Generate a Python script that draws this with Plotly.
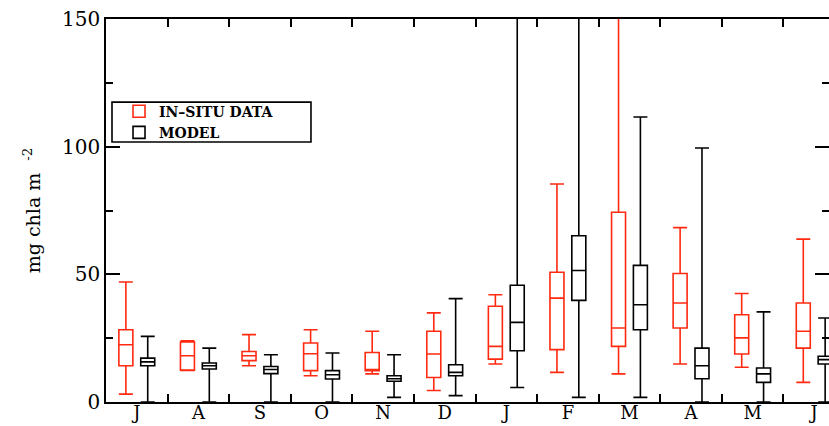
import plotly.graph_objects as go

month_keys = ["Jul", "Aug", "Sep", "Oct", "Nov", "Dec", "Jan", "Feb", "Mar", "Apr", "May", "Jun"]
month_labels = ["J", "A", "S", "O", "N", "D", "J", "F", "M", "A", "M", "J"]

# IN-SITU DATA (red)
insitu_low = [3.1, 12.4, 14.2, 10.3, 11.0, 4.5, 14.9, 11.6, 11.0, 14.9, 13.6, 7.7]
insitu_q1 = [14.2, 12.5, 16.2, 12.3, 12.3, 9.6, 16.8, 20.5, 21.8, 29.0, 18.8, 21.1]
insitu_med = [22.4, 18.1, 18.1, 18.9, 12.7, 18.8, 21.8, 40.7, 29.0, 38.8, 25.1, 27.7]
insitu_q3 = [28.3, 23.5, 19.8, 23.1, 19.4, 27.7, 37.5, 50.8, 74.3, 50.3, 34.2, 38.8]
insitu_high = [47.0, 24.0, 26.4, 28.3, 27.7, 34.9, 42.0, 85.4, 170.0, 68.3, 42.5, 63.8]

# MODEL (black)
model_low = [0.0, 0.0, 0.0, 0.0, 1.8, 2.5, 5.7, 1.8, 1.8, 0.0, 0.0, 0.0]
model_q1 = [14.2, 12.9, 11.1, 9.0, 8.1, 10.3, 20.1, 39.8, 28.3, 9.1, 7.7, 14.9]
model_med = [15.7, 14.2, 12.7, 10.7, 9.1, 11.6, 31.2, 51.5, 38.1, 14.2, 11.0, 16.6]
model_q3 = [17.2, 15.3, 13.9, 12.3, 10.3, 14.6, 45.7, 65.1, 53.5, 21.1, 13.3, 17.9]
model_high = [25.7, 21.1, 18.5, 19.2, 18.5, 40.5, 170.0, 170.0, 111.6, 99.5, 35.3, 32.9]

RED = "#ff2a10"
BLACK = "#000000"

fig = go.Figure()
fig.add_trace(go.Box(
    name="IN\u2013SITU DATA", x=month_keys,
    q1=insitu_q1, median=insitu_med, q3=insitu_q3,
    lowerfence=insitu_low, upperfence=insitu_high,
    line=dict(color=RED, width=1.6), fillcolor="rgba(0,0,0,0)",
    whiskerwidth=1, boxpoints=False,
))
fig.add_trace(go.Box(
    name="MODEL", x=month_keys,
    q1=model_q1, median=model_med, q3=model_q3,
    lowerfence=model_low, upperfence=model_high,
    line=dict(color=BLACK, width=1.6), fillcolor="rgba(0,0,0,0)",
    whiskerwidth=1, boxpoints=False,
))

font_family = "DejaVu Serif"
fig.update_layout(
    width=829, height=426,
    margin=dict(l=106, r=0, t=19, b=24, autoexpand=False),
    paper_bgcolor="white", plot_bgcolor="white",
    boxmode="group", boxgap=0.29, boxgroupgap=0.36,
    font=dict(family=font_family, color="black"),
    legend=dict(
        x=0.018, y=0.80, xanchor="left", yanchor="top",
        bgcolor="rgba(0,0,0,0)", borderwidth=0,
        font=dict(family=font_family, size=14, color="black", weight="bold"),
        tracegroupgap=0, itemwidth=30,
    ),
    showlegend=True,
    shapes=[dict(
        type="rect", xref="paper", yref="paper",
        x0=0.0083, x1=0.2835, y0=0.679, y1=0.783,
        line=dict(color="black", width=1.6), fillcolor="white", layer="above",
    )],
)
fig.update_xaxes(
    type="category", categoryorder="array", categoryarray=month_keys,
    tickmode="array", tickvals=month_keys, ticktext=month_labels,
    tickson="boundaries", ticks="inside", ticklen=8, tickwidth=1.5, tickcolor="black",
    showline=True, linecolor="black", linewidth=1.6, mirror="allticks",
    showgrid=False, zeroline=False, automargin=False,
    range=[-0.5, 11.24],
    ticklabelstandoff=-6,
    tickfont=dict(family=font_family, size=18, color="black"),
)
fig.update_yaxes(
    range=[0, 150], tickmode="array", tickvals=[0, 50, 100, 150],
    ticks="inside", ticklen=14, tickwidth=1.5, tickcolor="black",
    minor=dict(dtick=25, ticks="inside", ticklen=7, tickwidth=1.5, tickcolor="black", showgrid=False),
    showline=True, linecolor="black", linewidth=1.6, mirror="allticks",
    showgrid=False, zeroline=False, automargin=False,
    tickfont=dict(family=font_family, size=20, color="black"),
    title=dict(text="mg chla m  <sup>-2</sup>", font=dict(family=font_family, size=19, color="black"), standoff=16),
)

fig.write_html(
    "out.html",
    config={"displayModeBar": False},
    post_script="document.body.style.margin='0';document.body.style.overflow='hidden';",
)
